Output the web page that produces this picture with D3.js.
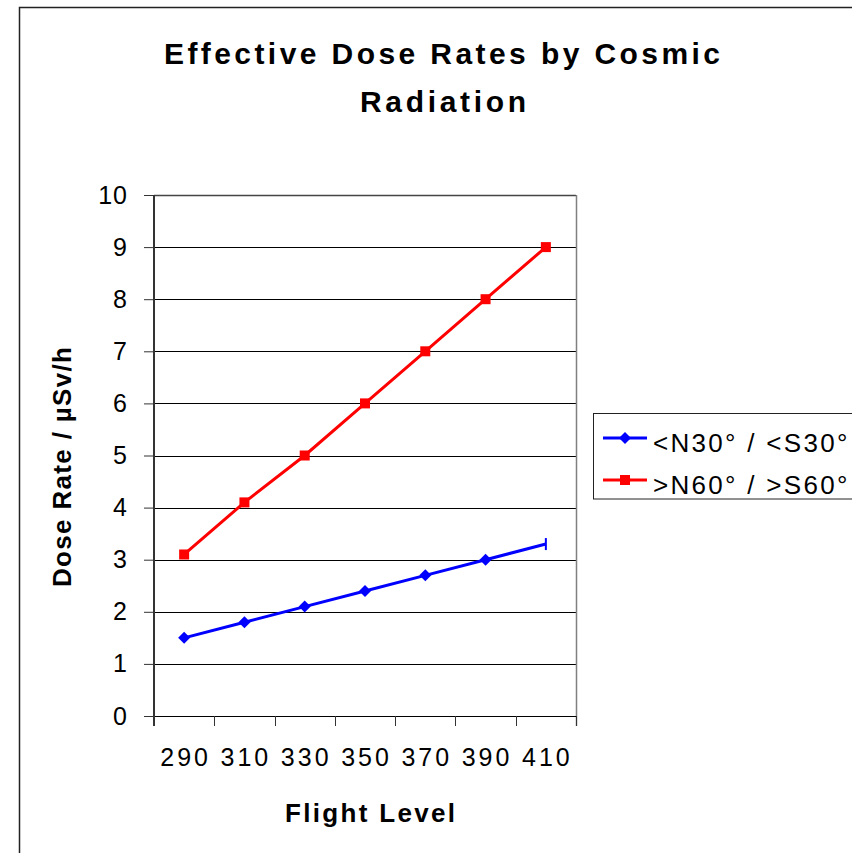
<!DOCTYPE html>
<html><head><meta charset="utf-8">
<script src="https://cdn.jsdelivr.net/npm/d3@7"></script>
<style>body{margin:0;background:#fff}svg{display:block}text{font-family:"Liberation Sans",Arial,sans-serif}</style>
</head><body><svg id="c" width="852" height="853"></svg>
<script>
const categories = ["290","310","330","350","370","390","410"];
const lowLat = [1.5,1.8,2.1,2.4,2.7,3.0,3.3];
const highLat = [3.1,4.1,5.0,6.0,7.0,8.0,9.0];
const yTicks = [0,1,2,3,4,5,6,7,8,9,10];
const seriesNames = ["<N30° / <S30°", ">N60° / >S60°"];
const seriesColors = ["#0000FF", "#FF0000"];

const svg = d3.select("#c");
const L = 154, R = 576, T = 195, B = 716;
const x = d3.scaleBand().domain(categories).range([L, R]).padding(0);
const y = d3.scaleLinear().domain([0, 10]).range([B, T]);

// outer frame
svg.append("rect").attr("x",19.5).attr("y",7.5).attr("width",900).attr("height",900)
  .attr("fill","none").attr("stroke","#222").attr("stroke-width",1.5);

// title
svg.append("text").attr("x",442).attr("y",64).attr("text-anchor","middle")
  .attr("font-size",30).attr("font-weight","bold").attr("textLength",556).attr("lengthAdjust","spacing")
  .text("Effective Dose Rates by Cosmic");
svg.append("text").attr("x",443).attr("y",112).attr("text-anchor","middle")
  .attr("font-size",30).attr("font-weight","bold").attr("textLength",166).attr("lengthAdjust","spacing")
  .text("Radiation");

// gridlines
svg.append("g").selectAll("line").data(yTicks).join("line")
  .attr("x1",L).attr("x2",R).attr("y1",d=>Math.round(y(d))+0.5).attr("y2",d=>Math.round(y(d))+0.5)
  .attr("stroke",d=>d===10?"#444":"#000").attr("stroke-width",d=>d===10?1.5:1);
// right border
svg.append("line").attr("x1",R+0.5).attr("x2",R+0.5).attr("y1",T).attr("y2",B+10)
  .attr("stroke","#808080").attr("stroke-width",1.5);

// y axis
const yAxis = d3.axisLeft(y).tickValues(yTicks).tickSize(10).tickPadding(16).tickFormat(d3.format("d"));
const gy = svg.append("g").attr("transform",`translate(${L},0)`).call(yAxis);
gy.select(".domain").remove();
gy.selectAll(".tick line").attr("stroke","#333");
gy.selectAll(".tick text").attr("font-size",25).attr("fill","#000").attr("dy","0.32em")
  .attr("font-family","Liberation Sans, Arial, sans-serif").attr("letter-spacing","1px");
svg.append("line").attr("x1",L).attr("x2",L).attr("y1",T).attr("y2",B+10)
  .attr("stroke","#333").attr("stroke-width",2);

// x axis
svg.append("line").attr("x1",L).attr("x2",R).attr("y1",B+0.5).attr("y2",B+0.5).attr("stroke","#000");
const bounds = categories.map(c=>x(c)).concat([R]);
svg.append("g").selectAll("line").data(bounds).join("line")
  .attr("x1",d=>Math.round(d)+0.5).attr("x2",d=>Math.round(d)+0.5).attr("y1",B).attr("y2",B+10)
  .attr("stroke","#333");
svg.append("g").selectAll("text").data(categories).join("text")
  .attr("x",d=>x(d)+x.bandwidth()/2+1.5).attr("y",766).attr("text-anchor","middle")
  .attr("font-size",25).attr("letter-spacing","3px").text(d=>d);

// axis titles
svg.append("text").attr("x",370).attr("y",822).attr("text-anchor","middle")
  .attr("font-size",26).attr("font-weight","bold").attr("textLength",170).attr("lengthAdjust","spacing")
  .text("Flight Level");
svg.append("text").attr("transform","translate(71,467) rotate(-90)").attr("text-anchor","middle")
  .attr("font-size",26).attr("font-weight","bold").attr("textLength",240).attr("lengthAdjust","spacing")
  .text("Dose Rate / µSv/h");

// lines
const cx = d => x(d) + x.bandwidth()/2;
const line = d3.line().x(d=>cx(d.c)).y(d=>y(d.v));
const s1 = categories.map((c,i)=>({c, v: lowLat[i], i}));
const s2 = categories.map((c,i)=>({c, v: highLat[i], i}));
svg.append("path").datum(s1).attr("d",line).attr("fill","none").attr("stroke",seriesColors[0]).attr("stroke-width",3);
svg.append("path").datum(s2).attr("d",line).attr("fill","none").attr("stroke",seriesColors[1]).attr("stroke-width",3);

// markers
const diamond = (px,py,r)=>`M${px},${py-r}L${px+r},${py}L${px},${py+r}L${px-r},${py}Z`;
svg.append("g").selectAll("path").data(s1).join("path")
  .attr("d",d=> d.i===categories.length-1
    ? `M${cx(d.c)-1},${y(d.v)-6}h2v12h-2Z`
    : diamond(cx(d.c),y(d.v),6))
  .attr("fill",seriesColors[0]);
svg.append("g").selectAll("rect").data(s2).join("rect")
  .attr("x",d=>cx(d.c)-5).attr("y",d=>y(d.v)-5).attr("width",10).attr("height",10)
  .attr("fill",seriesColors[1]);

// legend
const lg = svg.append("g");
lg.append("rect").attr("x",593.5).attr("y",413.5).attr("width",300).attr("height",85.5)
  .attr("fill","#fff").attr("stroke","#222").attr("stroke-width",1);
const rows = [438, 480];
seriesNames.forEach((n,i)=>{
  lg.append("line").attr("x1",603).attr("x2",647).attr("y1",rows[i]).attr("y2",rows[i])
    .attr("stroke",seriesColors[i]).attr("stroke-width",3);
  if(i===0) lg.append("path").attr("d",diamond(625,rows[i],6)).attr("fill",seriesColors[i]);
  else lg.append("rect").attr("x",620).attr("y",rows[i]-5).attr("width",10).attr("height",10).attr("fill",seriesColors[i]);
  lg.append("text").attr("x",653).attr("y",rows[i]+6).attr("dy","0.32em").attr("font-size",26)
    .attr("letter-spacing","2.3px").text(n);
});
</script></body></html>
